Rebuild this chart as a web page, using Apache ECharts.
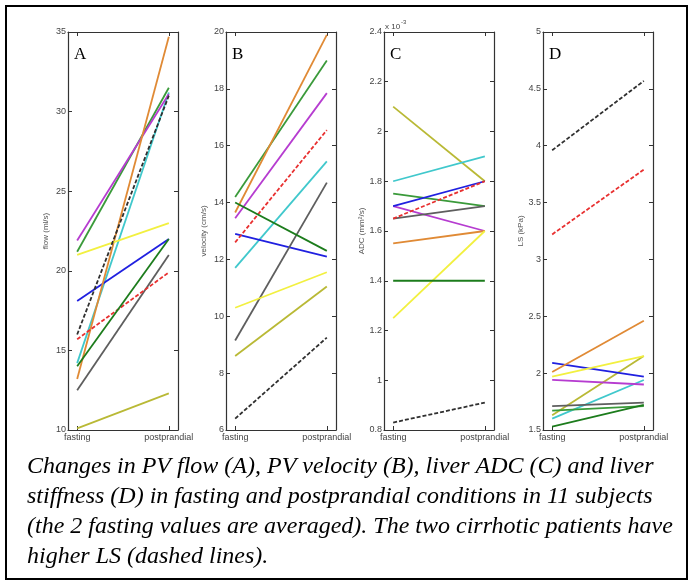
<!DOCTYPE html>
<html>
<head>
<meta charset="utf-8">
<script src="https://cdn.jsdelivr.net/npm/echarts@6/dist/echarts.min.js"></script>
<style>
html,body{margin:0;padding:0;background:#fff;}
#chart{width:694px;height:586px;}
</style>
</head>
<body>
<div id="chart"></div>
<script>
// ---- data ----
const categories = ['fasting', 'postprandial'];
const subjects = ['S1','S2','S3','S4','S5','S6','S7','S8','S9','S10','S11'];
// panel A: PV flow (ml/s)
const flowFasting = [10.1, 14.2, 21.2, 21.9, 18.1, 13.2, 12.5, 21.0, 15.7, 16.0, 14.0];
const flowPost    = [12.3, 31.2, 31.5, 31.1, 22.0, 34.7, 21.0, 23.0, 19.9, 31.0, 22.0];
// panel B: PV velocity (cm/s)
const velFasting = [8.6, 11.7, 14.2, 13.45, 12.9, 13.65, 9.15, 10.3, 12.6, 6.4, 14.0];
const velPost    = [11.05, 15.45, 19.0, 17.85, 12.1, 19.9, 14.7, 11.55, 16.55, 9.25, 12.3];
// panel C: ADC (x10^-3 mm2/s)
const adcFasting = [2.1, 1.8, 1.75, 1.7, 1.7, 1.55, 1.65, 1.25, 1.65, 0.83, 1.4];
const adcPost    = [1.8, 1.9, 1.7, 1.6, 1.8, 1.6, 1.7, 1.6, 1.8, 0.91, 1.4];
// panel D: LS (kPa)
const lsFasting = [1.63, 1.6, 1.67, 1.94, 2.09, 2.01, 1.71, 1.97, 3.22, 3.96, 1.53];
const lsPost    = [2.15, 1.94, 1.71, 1.9, 1.97, 2.46, 1.74, 2.15, 3.79, 4.57, 1.72];
// y-axis ranges
const panelLetters = ['A', 'B', 'C', 'D'];
const axisNames = ['flow (ml/s)', 'velocity (cm/s)', 'ADC (mm\u00b2/s)', 'LS (kPa)'];
const yMins = [10, 6, 0.8, 1.5];
const yMaxs = [35, 20, 2.4, 5];
const yIntervals = [5, 2, 0.2, 0.5];
const captionLines = [
  'Changes in PV flow (A), PV velocity (B), liver ADC (C) and liver',
  'stiffness (D) in fasting and postprandial conditions in 11 subjects',
  '(the 2 fasting values are averaged). The two cirrhotic patients have',
  'higher LS (dashed lines).'
];

// ---- styles ----
const colors = ['#b9b935', '#40c8cc', '#3a9a3a', '#b63cd0', '#2020e0', '#e08a35',
                '#5e5e5e', '#f2f040', '#e83030', '#303030', '#1c7c1c'];
const dashed = [false,false,false,false,false,false,false,false,true,true,false];

const panels = [
  [flowFasting, flowPost],
  [velFasting, velPost],
  [adcFasting, adcPost],
  [lsFasting, lsPost]
];
const lefts = [68, 226, 384, 543];
const gridTop = 32, gridH = 398, gridW = 110;
const labelFont = '"Liberation Sans Narrow", "Liberation Sans", Arial, sans-serif';

const grid = [], xAxis = [], yAxis = [], series = [];
panels.forEach((p, gi) => {
  grid.push({left: lefts[gi], top: gridTop, width: gridW, height: gridH});
  const xBase = {
    type: 'value', gridIndex: gi, min: -0.1, max: 1.1,
    splitLine: {show: false},
    axisLine: {show: true, onZero: false, lineStyle: {color: '#333', width: 1.2}},
    axisTick: {show: true, inside: true, length: 4, customValues: [0, 1], lineStyle: {color: '#333'}}
  };
  xAxis.push(Object.assign({}, xBase, {
    position: 'bottom',
    axisLabel: {show: true, customValues: [0, 1], formatter: v => categories[Math.round(v)],
      fontSize: 9, color: '#444', fontFamily: labelFont, margin: 3}
  }));
  xAxis.push(Object.assign({}, xBase, {position: 'top', axisLabel: {show: false}}));
  const yBase = {
    type: 'value', gridIndex: gi, min: yMins[gi], max: yMaxs[gi], interval: yIntervals[gi],
    splitLine: {show: false},
    axisLine: {show: true, onZero: false, lineStyle: {color: '#333', width: 1.2}},
    axisTick: {show: true, inside: true, length: 4, lineStyle: {color: '#333'}}
  };
  yAxis.push(Object.assign({}, yBase, {
    position: 'left',
    name: axisNames[gi], nameLocation: 'middle', nameGap: 18, nameRotate: 90,
    nameTextStyle: {fontSize: 8, color: '#555', fontFamily: labelFont},
    axisLabel: {fontSize: 9, color: '#444', fontFamily: labelFont, margin: 2,
      formatter: v => String(parseFloat(v.toFixed(2)))}
  }));
  yAxis.push(Object.assign({}, yBase, {position: 'right', axisLabel: {show: false}}));
  subjects.forEach((s, si) => {
    series.push({
      type: 'line', name: s, xAxisIndex: gi * 2, yAxisIndex: gi * 2,
      data: categories.map((c, ci) => [ci, p[ci][si]]),
      symbol: 'none', silent: true, animation: false,
      lineStyle: {color: colors[si], width: 1.8, type: dashed[si] ? [4, 2] : 'solid'}
    });
  });
});

const graphic = [
  {type: 'rect', shape: {x: 6, y: 6, width: 681, height: 573},
   style: {fill: 'none', stroke: '#000', lineWidth: 2}}
];
panelLetters.forEach((L, i) => {
  graphic.push({type: 'text', left: lefts[i] + 6, top: 46,
    style: {text: L, font: '17px "Liberation Serif", "Times New Roman", serif', fill: '#000'}});
});
graphic.push({type: 'text', x: 385, y: 19,
  style: {text: '{a|x 10}{b|-3}', rich: {
    a: {fontSize: 8, fontFamily: labelFont, fill: '#444', verticalAlign: 'bottom'},
    b: {fontSize: 6, fontFamily: labelFont, fill: '#444', verticalAlign: 'top', padding: [0,0,6,1]}
  }}});
captionLines.forEach((t, i) => {
  graphic.push({type: 'text', x: 27, y: 467 + i * 30,
    style: {text: t, font: 'italic 24px "Liberation Serif", "Times New Roman", serif',
      fill: '#000', verticalAlign: 'middle'}});
});

const chart = echarts.init(document.getElementById('chart'), null, {renderer: 'canvas'});
chart.setOption({animation: false, grid, xAxis, yAxis, series, graphic});
</script>
</body>
</html>
